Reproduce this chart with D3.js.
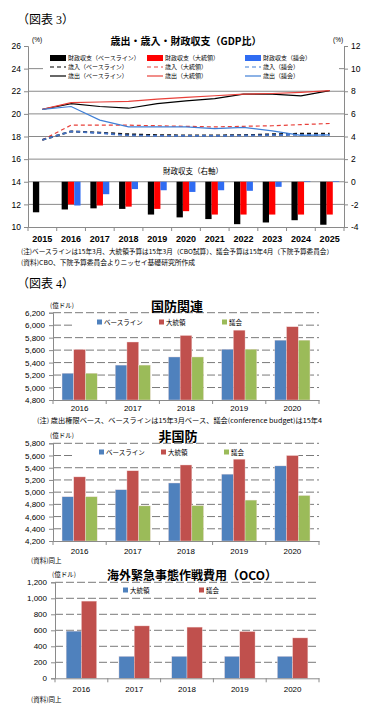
<!DOCTYPE html>
<html>
<head>
<meta charset="utf-8">
<script src="https://cdn.jsdelivr.net/npm/d3@7"></script>
<style>
  body { margin: 0; background: #fff; }
  svg text { font-family: "Liberation Sans", "Noto Sans CJK JP", sans-serif; fill: #000; }
  .jp { font-family: "Noto Sans CJK JP", sans-serif; }
  .serif { font-family: "Liberation Serif", "Noto Sans CJK JP", serif; }
</style>
</head>
<body>
<svg id="chart" width="374" height="714"></svg>
<script>
// ---- data: 図表3 (GDP比, %)
const years1 = ['2015', '2016', '2017', '2018', '2019', '2020', '2021', '2022', '2023', '2024', '2025'];
const balBase = [-2.7, -2.45, -2.35, -2.4, -2.9, -3.15, -3.3, -3.75, -3.6, -3.4, -3.8];
const balPres = [null, -2.0, -2.1, -2.2, -2.4, -2.6, -2.9, -2.9, -2.9, -2.9, -2.9];
const balCong = [null, -2.1, -1.1, -0.65, -0.75, -0.9, -0.75, -0.8, -0.45, 0.05, 0.05];
const revBase = [17.7, 18.45, 18.35, 18.2, 18.12, 18.1, 18.1, 18.12, 18.2, 18.25, 18.25];
const revPres = [17.7, 19.0, 19.0, 19.0, 18.95, 18.9, 18.85, 18.9, 18.95, 19.05, 19.15];
const revCong = [17.7, 18.45, 18.3, 18.1, 18.05, 18.05, 18.05, 18.08, 18.12, 18.15, 18.15];
const outBase = [20.4, 20.9, 20.65, 20.5, 20.9, 21.15, 21.35, 21.75, 21.75, 21.6, 22.05];
const outPres = [20.4, 21.0, 21.05, 21.1, 21.3, 21.45, 21.6, 21.75, 21.8, 21.9, 22.05];
const outCong = [20.4, 20.65, 19.45, 18.85, 18.85, 18.85, 18.7, 18.8, 18.5, 18.1, 18.15];

// ---- data: 図表4 (億ドル)
const years2 = ['2016', '2017', '2018', '2019', '2020'];
const defBase = [5230, 5360, 5490, 5615, 5760];
const defPres = [5610, 5730, 5835, 5920, 5975];
const defCong = [5230, 5360, 5490, 5615, 5760];
const nonBase = [4925, 5040, 5150, 5295, 5430];
const nonPres = [5250, 5350, 5445, 5540, 5600];
const nonCong = [4925, 4775, 4780, 4870, 4945];
const ocoPres = [590, 275, 275, 275, 275];
const ocoCong = [965, 655, 640, 585, 505];

const svg = d3.select('#chart');

// little helper for plain text
function label(g, x, y, str, size, opts = {}) {
  const t = g.append('text')
    .attr('x', x).attr('y', y)
    .attr('font-size', size)
    .attr('text-anchor', opts.anchor || 'start')
    .attr('font-weight', opts.weight || 'normal')
    .attr('class', opts.cls || null)
    .text(str);
  if (opts.len) t.attr('textLength', opts.len).attr('lengthAdjust', 'spacingAndGlyphs');
  return t;
}

// ================= 図表3 =================
const c1 = { left: 28, right: 344, top: 46, bottom: 227 };
const g1 = svg.append('g');

label(g1, 17, 24, '（図表 3）', 12, { cls: 'serif' });
label(g1, 186, 45, '歳出・歳入・財政収支（GDP比）', 10, { anchor: 'middle', weight: 'bold', cls: 'jp' });
label(g1, 32, 42, '(%)', 6.5);
label(g1, 333, 42, '(%)', 6.5);

const x1 = d3.scaleBand().domain(years1).range([c1.left, c1.right]);
const yL = d3.scaleLinear().domain([10, 26]).range([c1.bottom, c1.top]);
const yR = d3.scaleLinear().domain([-4, 12]).range([c1.bottom, c1.top]);

g1.selectAll('.grid')
  .data(d3.range(12, 25, 2))
  .join('line')
  .attr('x1', c1.left).attr('x2', c1.right)
  .attr('y1', d => yL(d)).attr('y2', d => yL(d))
  .attr('stroke', '#8a8a8a').attr('stroke-width', 1);

const balSeries = [
  { key: 'base', values: balBase, color: '#000000' },
  { key: 'pres', values: balPres, color: '#ff0000' },
  { key: 'cong', values: balCong, color: '#2f6cf2' }
];
const xb = d3.scaleBand().domain(balSeries.map(s => s.key)).range([0, x1.bandwidth()]).paddingOuter(0.78);

balSeries.forEach(s => {
  g1.append('g')
    .selectAll('rect')
    .data(s.values.map((v, i) => ({ v, year: years1[i] })).filter(d => d.v != null))
    .join('rect')
    .attr('x', d => x1(d.year) + xb(s.key))
    .attr('width', xb.bandwidth())
    .attr('y', d => Math.min(yR(d.v), yR(0)))
    .attr('height', d => Math.abs(yR(d.v) - yR(0)))
    .attr('fill', s.color);
});

label(g1, 193, 174, '財政収支（右軸）', 7.5, { anchor: 'middle', cls: 'jp' });

const lineSeries = [
  { values: revPres, color: '#e8403a', width: 1.2, dash: '4,3' },
  { values: revBase, color: '#111', width: 1.8, dash: '4,3' },
  { values: revCong, color: '#4472c4', width: 1.8, dash: '4,3' },
  { values: outBase, color: '#000', width: 1.2, dash: null },
  { values: outPres, color: '#e8403a', width: 1.2, dash: null },
  { values: outCong, color: '#3f7fd6', width: 1.2, dash: null }
];
const line = d3.line()
  .defined(d => d != null)
  .x((d, i) => x1(years1[i]) + x1.bandwidth() / 2)
  .y(d => yL(d));

lineSeries.forEach(s => {
  g1.append('path')
    .attr('d', line(s.values))
    .attr('fill', 'none')
    .attr('stroke', s.color)
    .attr('stroke-width', s.width)
    .attr('stroke-dasharray', s.dash);
});

// legend
g1.append('rect').attr('x', 43).attr('y', 52).attr('width', 296).attr('height', 29).attr('fill', '#fff');
const legCols = [50, 147, 245];
const legRows = [58, 67, 76];
const legNames = [
  ['財政収支（ベースライン）', '財政収支（大統領）', '財政収支（議会）'],
  ['歳入（ベースライン）', '歳入（大統領）', '歳入（議会）'],
  ['歳出（ベースライン）', '歳出（大統領）', '歳出（議会）']
];
const legColors = ['#000', '#ff0000', '#2f6cf2'];
const lineColors = ['#000', '#e8403a', '#3f7fd6'];
legCols.forEach((cx, c) => {
  g1.append('rect').attr('x', cx).attr('y', legRows[0] - 3).attr('width', 16).attr('height', 6).attr('fill', legColors[c]);
  g1.append('line').attr('x1', cx).attr('x2', cx + 16).attr('y1', legRows[1]).attr('y2', legRows[1])
    .attr('stroke', lineColors[c]).attr('stroke-width', 1.2).attr('stroke-dasharray', '4,3');
  g1.append('line').attr('x1', cx).attr('x2', cx + 16).attr('y1', legRows[2]).attr('y2', legRows[2])
    .attr('stroke', lineColors[c]).attr('stroke-width', 1.2);
  legRows.forEach((ry, r) => label(g1, cx + 18, ry + 2.2, legNames[r][c], 6, { cls: 'jp' }));
});

// axes
const axL = g1.append('g').attr('transform', `translate(${c1.left},0)`)
  .call(d3.axisLeft(yL).tickValues(d3.range(10, 27, 2)).tickSize(4).tickPadding(3).tickFormat(d => String(d)));
const axR = g1.append('g').attr('transform', `translate(${c1.right},0)`)
  .call(d3.axisRight(yR).tickValues(d3.range(-4, 13, 2)).tickSize(4).tickPadding(3).tickFormat(d => String(d)));
const axB = g1.append('g').attr('transform', `translate(0,${c1.bottom})`)
  .call(d3.axisBottom(x1).tickSize(0).tickPadding(9));
axB.selectAll('text').attr('font-weight', 'bold').attr('font-size', 9);
g1.append('g').selectAll('line')
  .data(years1.map(y => x1(y)).concat([c1.right]))
  .join('line')
  .attr('x1', d => d).attr('x2', d => d)
  .attr('y1', c1.bottom).attr('y2', c1.bottom + 4)
  .attr('stroke', '#8a8a8a');
[axL, axR, axB].forEach(a => {
  a.select('.domain').attr('stroke', '#8a8a8a');
  a.selectAll('.tick line').attr('stroke', '#8a8a8a');
  a.selectAll('text').style('font-family', '"Liberation Sans", sans-serif').attr('fill', '#000');
});
axL.selectAll('text').attr('font-size', 8.5);
axR.selectAll('text').attr('font-size', 8.5);

label(g1, 21, 254, '(注)ベースラインは15年3月、大統領予算は15年3月（CBO試算）、議会予算は15年4月（下院予算委員会）', 6.5, { cls: 'jp', len: 312 });
label(g1, 21, 265, '(資料)CBO、下院予算委員会よりニッセイ基礎研究所作成', 6.5, { cls: 'jp', len: 174 });

// ================= 図表4 =================
label(svg, 17, 288, '（図表 4）', 12, { cls: 'serif' });

function barChart(o) {
  const g = svg.append('g');
  const x = d3.scaleBand().domain(o.cats).range([o.left, o.right]);
  const y = d3.scaleLinear().domain(o.domain).range([o.bottom, o.top]);
  const xs = d3.scaleBand().domain(o.series.map(s => s.name)).range([0, x.bandwidth()]).paddingOuter(o.pad);
  const ticks = d3.range(o.domain[0], o.domain[1] + 1, o.step);

  g.selectAll('.grid')
    .data(ticks.slice(1))
    .join('line')
    .attr('x1', o.left).attr('x2', o.right)
    .attr('y1', d => y(d)).attr('y2', d => y(d))
    .attr('stroke', '#7a7a7a').attr('stroke-width', 1)
    .attr('stroke-dasharray', '8,3');

  if (o.legendBg) {
    g.append('rect').attr('x', o.legendBg[0]).attr('y', o.legendY - 6)
      .attr('width', o.legendBg[1] - o.legendBg[0]).attr('height', 12).attr('fill', '#fff');
  }

  label(g, o.titleX, o.titleY, o.title, o.titleSize || 13, { anchor: 'middle', weight: 'bold', cls: 'jp' });
  label(g, o.left - 3, o.top - 5, '(億ドル)', 6.5, { cls: 'jp' });

  o.series.forEach(s => {
    g.append('g')
      .selectAll('rect')
      .data(s.values.map((v, i) => ({ v, cat: o.cats[i] })))
      .join('rect')
      .attr('x', d => x(d.cat) + xs(s.name))
      .attr('width', xs.bandwidth())
      .attr('y', d => y(d.v))
      .attr('height', d => y(o.domain[0]) - y(d.v))
      .attr('fill', s.color)
      .attr('stroke', '#f4dede').attr('stroke-width', 0.4);
  });

  o.series.forEach((s, i) => {
    const lx = o.legendX[i];
    g.append('rect').attr('x', lx).attr('y', o.legendY - 2.5).attr('width', 5).attr('height', 5).attr('fill', s.color);
    label(g, lx + 7, o.legendY + 2.5, s.name, 6.5, { cls: 'jp' });
  });

  const ay = g.append('g').attr('transform', `translate(${o.left},0)`)
    .call(d3.axisLeft(y).tickValues(ticks).tickSize(4).tickPadding(4).tickFormat(d3.format(',')));
  const ax = g.append('g').attr('transform', `translate(0,${o.bottom})`)
    .call(d3.axisBottom(x).tickSize(0).tickPadding(o.xPad));
  g.append('g').selectAll('line')
    .data(o.cats.map(c => x(c)).concat([o.right]))
    .join('line')
    .attr('x1', d => d).attr('x2', d => d)
    .attr('y1', o.bottom).attr('y2', o.bottom + 4)
    .attr('stroke', '#8a8a8a');
  [ay, ax].forEach(a => {
    a.select('.domain').attr('stroke', '#8a8a8a');
    a.selectAll('.tick line').attr('stroke', '#8a8a8a');
    a.selectAll('text').attr('font-size', 8).attr('fill', '#000')
      .style('font-family', '"Liberation Sans", sans-serif');
  });
  return g;
}

const cBlue = '#4f81bd', cRed = '#c0504d', cGreen = '#9bbb59';

barChart({
  cats: years2, left: 53, right: 319, top: 312.7, bottom: 400,
  domain: [4800, 6200], step: 200, pad: 0.77, xPad: 5,
  series: [
    { name: 'ベースライン', values: defBase, color: cBlue },
    { name: '大統領', values: defPres, color: cRed },
    { name: '議会', values: defCong, color: cGreen }
  ],
  title: '国防関連', titleX: 177, titleY: 311,
  legendX: [97, 159, 222], legendY: 322, legendBg: [72, 298]
});
label(svg, 37, 422.5, '(注) 歳出権限ベース、ベースラインは15年3月ベース、議会(conference budget)は15年4', 6.5, { cls: 'jp', len: 285 });

barChart({
  cats: years2, left: 53, right: 319, top: 443.3, bottom: 541,
  domain: [4200, 5800], step: 200, pad: 0.77, xPad: 7,
  series: [
    { name: 'ベースライン', values: nonBase, color: cBlue },
    { name: '大統領', values: nonPres, color: cRed },
    { name: '議会', values: nonCong, color: cGreen }
  ],
  title: '非国防', titleX: 178, titleY: 440.5,
  legendX: [99, 161, 224], legendY: 452, legendBg: [72, 298]
});
label(svg, 31, 562.5, '(資料)同上', 6.5, { cls: 'jp' });

barChart({
  cats: years2, left: 55, right: 319, top: 582.3, bottom: 678.3,
  domain: [0, 1200], step: 200, pad: 0.73, xPad: 8,
  series: [
    { name: '大統領', values: ocoPres, color: cBlue },
    { name: '議会', values: ocoCong, color: cRed }
  ],
  title: '海外緊急事態作戦費用（OCO）', titleX: 192, titleY: 580, titleSize: 12,
  legendX: [123, 199], legendY: 590, legendBg: null
});
label(svg, 31, 702, '(資料)同上', 6.5, { cls: 'jp' });
</script>
</body>
</html>
